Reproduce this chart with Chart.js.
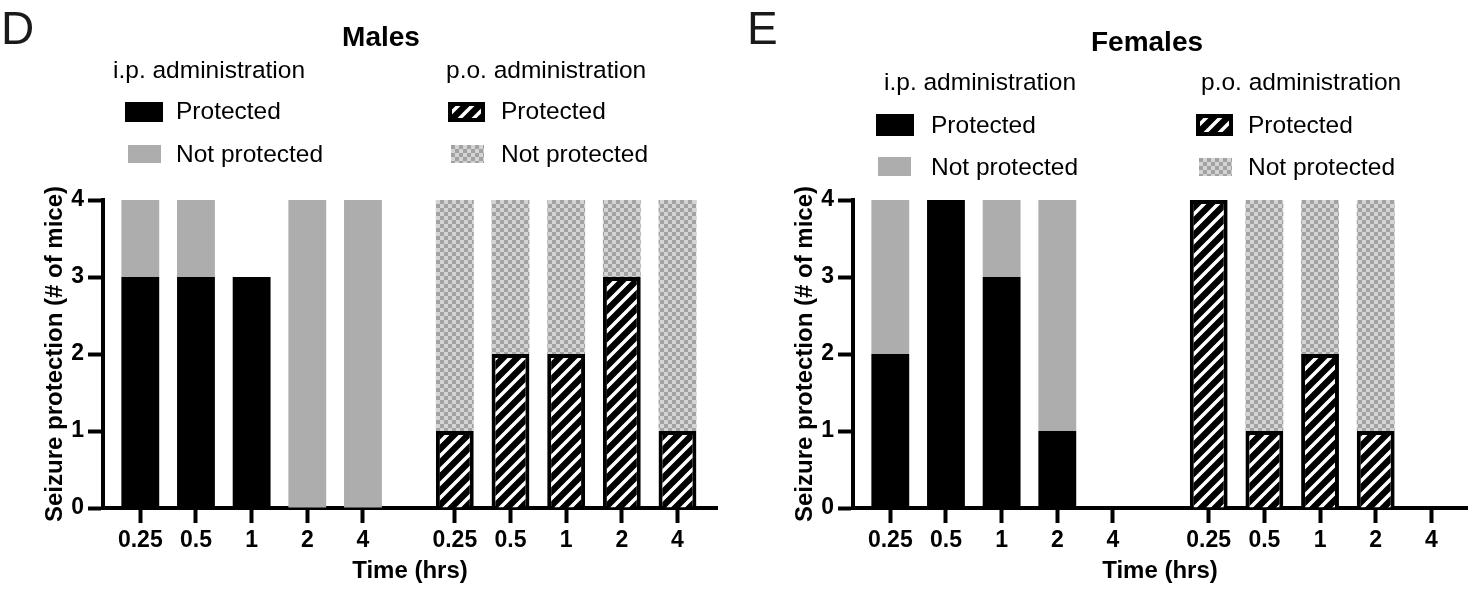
<!DOCTYPE html>
<html>
<head>
<meta charset="utf-8">
<script src="https://cdn.jsdelivr.net/npm/chart.js@4.4.1/dist/chart.umd.min.js"></script>
<style>
  html, body { margin: 0; padding: 0; background: #fff; }
  body { width: 1475px; height: 589px; position: relative; overflow: hidden;
         font-family: 'Liberation Sans', Arial, sans-serif; color: #000; }
  .panel { position: absolute; top: 0; }
  .txt { position: absolute; line-height: 1; white-space: nowrap; }
  .letter { font-size: 46px; color: #1a1a1a; }
  .ttl { font-size: 28px; font-weight: bold; transform: translateX(-50%); }
  .hdr { font-size: 24.5px; }
  .lab { font-size: 24.5px; }
  .sw { position: absolute; }
</style>
</head>
<body>
<canvas id="chartD" class="panel" style="left:0" width="737" height="589"></canvas>
<canvas id="chartE" class="panel" style="left:750px" width="737" height="589"></canvas>
<script>
// time points (hrs), same for both routes
const times = ['0.25', '0.5', '1', '2', '4'];

// males (panel D), # of mice
const malesIpProtected = [3, 3, 3, 0, 0];
const malesIpNotProtected = [1, 1, 0, 4, 4];
const malesPoProtected = [1, 2, 2, 3, 1];
const malesPoNotProtected = [3, 2, 2, 1, 3];

// females (panel E), # of mice
const femalesIpProtected = [2, 4, 3, 1, 0];
const femalesIpNotProtected = [2, 0, 1, 3, 0];
const femalesPoProtected = [4, 1, 2, 1, 0];
const femalesPoNotProtected = [0, 3, 2, 3, 0];

const yTicks = [0, 1, 2, 3, 4];

const GRAY = '#adadad';

Chart.defaults.font.family = "'Liberation Sans', Arial, sans-serif";
Chart.defaults.color = '#000';

function hatch(ctx) {
  const s = 14;
  const c = document.createElement('canvas');
  c.width = c.height = s;
  const g = c.getContext('2d');
  g.fillStyle = '#000';
  g.fillRect(0, 0, s, s);
  g.strokeStyle = '#fff';
  g.lineWidth = 3.5;
  g.beginPath();
  g.moveTo(0, s); g.lineTo(s, 0);
  g.moveTo(-s / 2, s / 2); g.lineTo(s / 2, -s / 2);
  g.moveTo(s / 2, s * 1.5); g.lineTo(s * 1.5, s / 2);
  g.stroke();
  return ctx.createPattern(c, 'repeat');
}

function checker(ctx) {
  const q = 4;
  const c = document.createElement('canvas');
  c.width = c.height = q * 2;
  const g = c.getContext('2d');
  g.fillStyle = '#d4d4d4';
  g.fillRect(0, 0, q * 2, q * 2);
  g.fillStyle = '#a2a2a2';
  g.fillRect(0, 0, q, q);
  g.fillRect(q, q, q, q);
  return ctx.createPattern(c, 'repeat');
}

// gap = extra room between the i.p. and p.o. groups, in bar slots
function makeChart(id, gap, ipProt, ipNot, poProt, poNot) {
  const ctx = document.getElementById(id).getContext('2d');
  const ipX = times.map((t, i) => i);
  const poX = times.map((t, i) => i + 4 + gap);
  const tickX = ipX.concat(poX);
  const tickLabels = times.concat(times);
  const pts = (xs, ys) => xs.map((x, i) => ({ x: x, y: ys[i] }));

  return new Chart(ctx, {
    type: 'bar',
    data: {
      datasets: [
        { label: 'i.p. Protected', data: pts(ipX, ipProt), backgroundColor: '#000', borderWidth: 0 },
        { label: 'i.p. Not protected', data: pts(ipX, ipNot), backgroundColor: GRAY, borderWidth: 0 },
        { label: 'p.o. Protected', data: pts(poX, poProt), backgroundColor: hatch(ctx),
          borderColor: '#000', borderWidth: 4 },
        { label: 'p.o. Not protected', data: pts(poX, poNot), backgroundColor: checker(ctx), borderWidth: 0 }
      ]
    },
    options: {
      responsive: false,
      animation: false,
      devicePixelRatio: 1,
      layout: { padding: { top: 200, right: 20, left: 0, bottom: 0 } },
      plugins: { legend: { display: false }, title: { display: false }, tooltip: { enabled: false } },
      datasets: { bar: { barPercentage: 0.68, categoryPercentage: 1 } },
      scales: {
        x: {
          type: 'linear', stacked: true, offset: false, min: -0.67, max: 10.36, z: 1,
          afterBuildTicks: s => { s.ticks = tickX.map(v => ({ value: v })); },
          afterFit: s => { s.height = 81; },
          ticks: { autoSkip: false, maxRotation: 0, padding: 4,
                   font: { size: 23, weight: 'bold' },
                   callback: (v, i) => tickLabels[i] },
          grid: { offset: false, drawOnChartArea: false, drawTicks: true, tickLength: 15, tickWidth: 4, tickColor: '#000' },
          border: { display: true, width: 4, color: '#000' },
          title: { display: true, text: 'Time (hrs)', font: { size: 24, weight: 'bold' },
                   padding: { top: 0, bottom: 3 } }
        },
        y: {
          stacked: true, min: 0, max: 4, z: 1,
          afterBuildTicks: s => { s.ticks = yTicks.map(v => ({ value: v })); },
          afterFit: s => { s.width = 103; },
          ticks: { padding: 4, font: { size: 23, weight: 'bold' } },
          grid: { drawOnChartArea: false, drawTicks: true, tickLength: 15, tickWidth: 4, tickColor: '#000' },
          border: { display: true, width: 4, color: '#000' },
          title: { display: true, text: 'Seizure protection (# of mice)', font: { size: 24, weight: 'bold' },
                   padding: { top: 41, bottom: 0 } }
        }
      }
    }
  });
}

function addText(text, cls, left, top) {
  const el = document.createElement('div');
  el.className = 'txt ' + cls;
  el.textContent = text;
  el.style.left = left + 'px';
  el.style.top = top + 'px';
  document.body.appendChild(el);
}

function addSwatch(fill, left, top, w, h, border) {
  const c = document.createElement('canvas');
  c.width = w; c.height = h;
  c.className = 'sw';
  c.style.left = left + 'px';
  c.style.top = top + 'px';
  const g = c.getContext('2d');
  g.fillStyle = typeof fill === 'function' ? fill(g) : fill;
  g.fillRect(0, 0, w, h);
  if (border) {
    g.strokeStyle = '#000';
    g.lineWidth = 4;
    g.strokeRect(2, 2, w - 4, h - 4);
  }
  document.body.appendChild(c);
}

// panel D header + legend
addText('D', 'letter', 1, 5);
addText('Males', 'ttl', 381, 23);
addText('i.p. administration', 'hdr', 113, 58);
addSwatch('#000', 125, 102, 38, 20);
addText('Protected', 'lab', 176, 99);
addSwatch(GRAY, 128, 145, 33, 18);
addText('Not protected', 'lab', 176, 142);
addText('p.o. administration', 'hdr', 446, 58);
addSwatch(hatch, 448, 102, 37, 20, true);
addText('Protected', 'lab', 501, 99);
addSwatch(checker, 451, 145, 33, 18);
addText('Not protected', 'lab', 501, 142);

// panel E header + legend
addText('E', 'letter', 747, 5);
addText('Females', 'ttl', 1147, 28);
addText('i.p. administration', 'hdr', 884, 70);
addSwatch('#000', 876, 114, 38, 22);
addText('Protected', 'lab', 931, 113);
addSwatch(GRAY, 878, 157, 33, 19);
addText('Not protected', 'lab', 931, 155);
addText('p.o. administration', 'hdr', 1201, 70);
addSwatch(hatch, 1196, 114, 37, 22, true);
addText('Protected', 'lab', 1248, 113);
addSwatch(checker, 1199, 158, 33, 18);
addText('Not protected', 'lab', 1248, 155);

makeChart('chartD', 1.65, malesIpProtected, malesIpNotProtected, malesPoProtected, malesPoNotProtected);
makeChart('chartE', 1.72, femalesIpProtected, femalesIpNotProtected, femalesPoProtected, femalesPoNotProtected);
</script>
</body>
</html>
